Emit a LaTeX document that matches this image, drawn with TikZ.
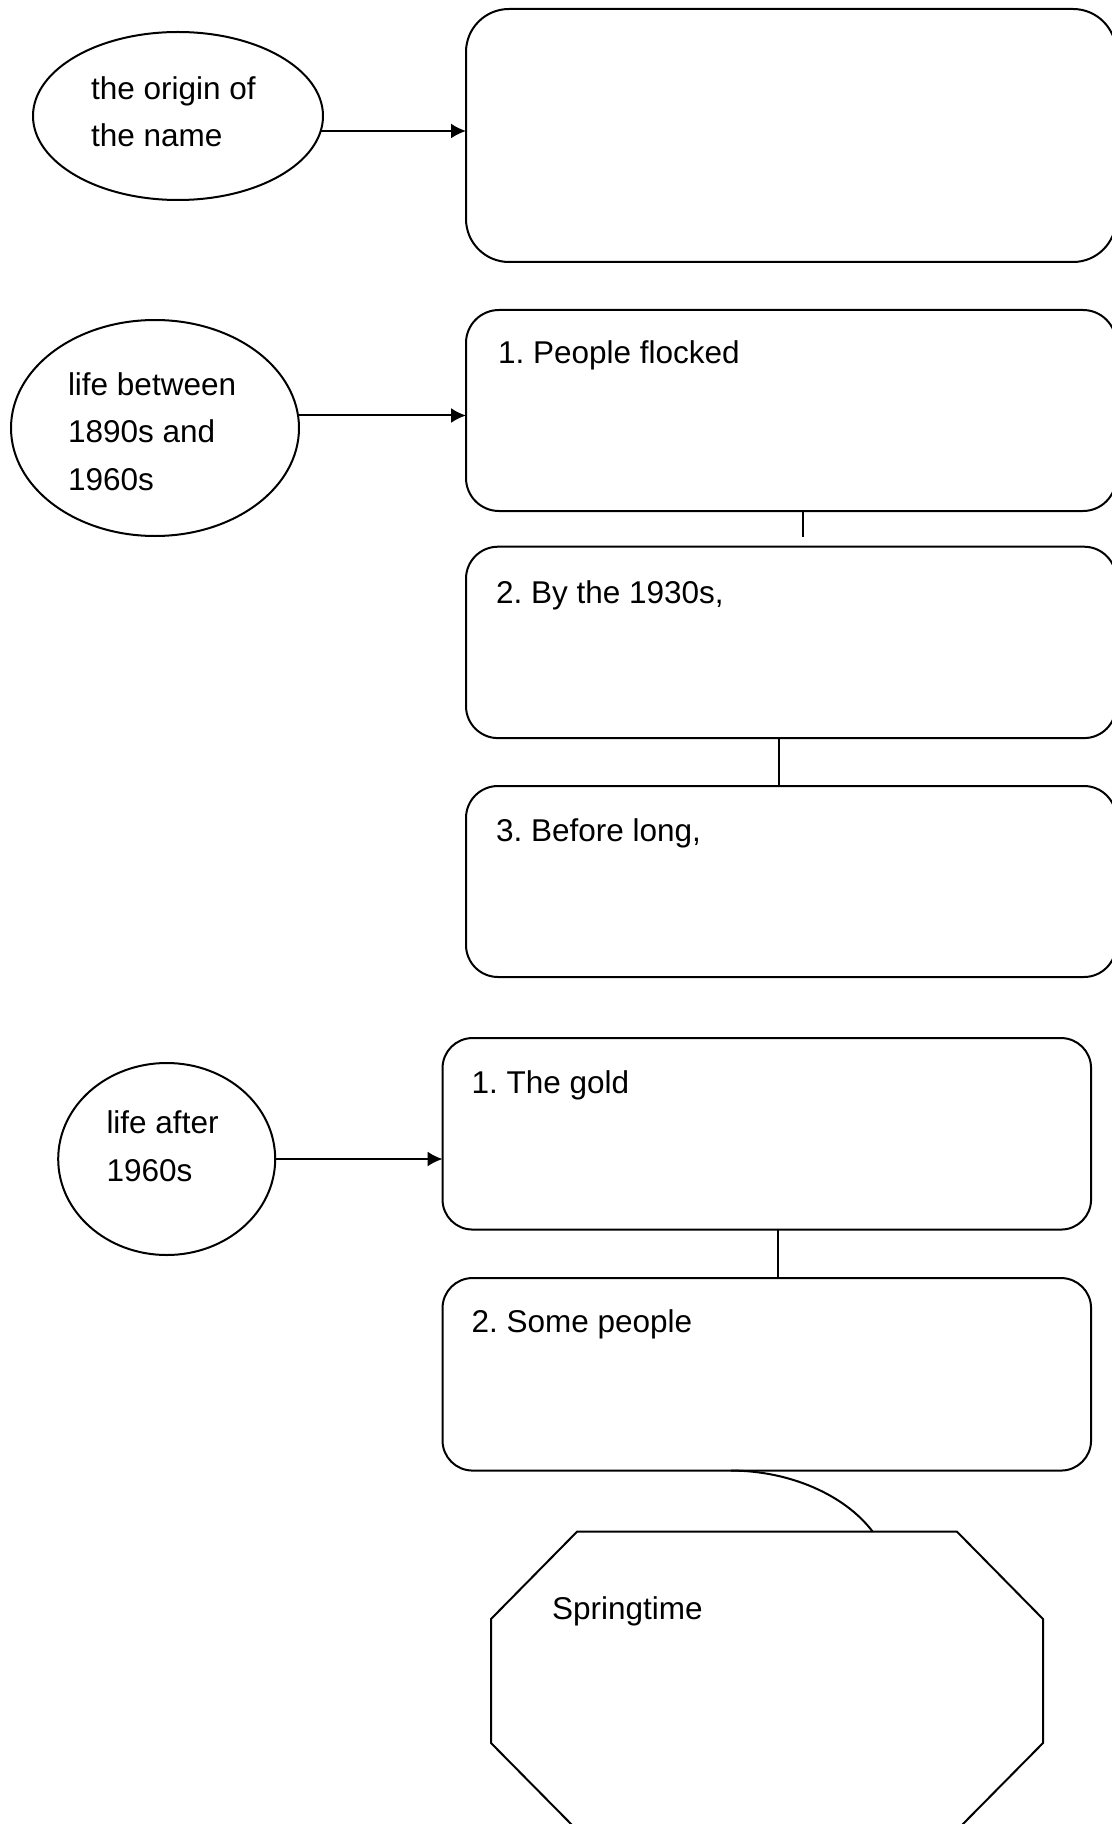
\documentclass[tikz,border=0pt]{standalone}
\usepackage{fontspec}
\setmainfont{Liberation Sans}
\usetikzlibrary{shapes.geometric,arrows.meta}
\frenchspacing
\begin{document}
\begin{tikzpicture}[x=0.5pt,y=-0.5pt,
  line width=1pt,
  txt/.style={anchor=base west, inner sep=0pt, outer sep=0pt, font=\fontsize{15.75}{19}\selectfont},
  oval/.style={draw, ellipse, inner sep=0pt, outer sep=0pt},
  rbox/.style={draw, rectangle, inner sep=0pt, outer sep=0pt},
  arr/.style={-{Latex[length=7.5pt,width=7.5pt]}}]
\path[use as bounding box] (0,0) rectangle (1112,1824);
\clip (0,0) rectangle (1112,1824);

% --- section 1
\node[oval, minimum width=145pt, minimum height=84pt] (e1) at (178,116) {};
\node[rbox, rounded corners=21.5pt, minimum width=325pt, minimum height=126.5pt] (b1) at (791,135.5) {};
\node[txt] (t1a) at (91,100) {the origin of};
\node[txt] (t1b) at (91,147) {the name};
\draw[arr] (e1.-6.2) -- (e1.-6.2 -| b1.west);

% --- section 2
\node[oval, minimum width=144pt, minimum height=108pt] (e2) at (155,428) {};
\node[txt] (t2a) at (68,395) {life between};
\node[txt] (t2b) at (68,442.5) {1890s and};
\node[txt] (t2c) at (68,490) {1960s};
\node[rbox, rounded corners=16.5pt, minimum width=325pt, minimum height=100.5pt] (b2) at (791,410.5) {};
\node[rbox, rounded corners=16pt, minimum width=325pt, minimum height=95.7pt] (b3) at (791,642.4) {};
\node[rbox, rounded corners=16pt, minimum width=325pt, minimum height=95.5pt] (b4) at (791,881.5) {};
\node[txt] (t2d) at (498,364) {1. People flocked};
\node[txt] (t2e) at (496,603) {2. By the 1930s,};
\node[txt] (t2f) at (496,841) {3. Before long,};
\draw[arr] (e2.5.2) -- (e2.5.2 -| b2.west);
\coordinate (c23) at (802.7,536.7);
\draw (c23 |- b2.south) -- (c23);
\coordinate (x34) at (779,0);
\draw (x34 |- b3.south) -- (x34 |- b4.north);

% --- section 3
\node[oval, minimum width=108.5pt, minimum height=96pt] (e3) at (166.7,1159) {};
\node[txt] (t3a) at (106.5,1133) {life after};
\node[txt] (t3b) at (106.5,1181.5) {1960s};
\node[rbox, rounded corners=15pt, minimum width=324.25pt, minimum height=95.75pt] (b5) at (766.8,1133.8) {};
\node[rbox, rounded corners=15pt, minimum width=324.25pt, minimum height=96.25pt] (b6) at (766.8,1374.3) {};
\node[txt] (t3c) at (471.5,1093) {1. The gold};
\node[txt] (t3d) at (471.5,1332.5) {2. Some people};
\draw[arr] (e3.east) -- (e3.east -| b5.west);
\coordinate (x56) at (778,0);
\draw (x56 |- b5.south) -- (x56 |- b6.north);

% --- octagon
\draw[line join=miter] (577,1531.7) coordinate (o1) -- (957,1531.7) -- (1043,1619) -- (1043,1743)
  -- (957,1830) -- (577,1830) -- (491,1743) -- (491,1619) -- cycle;
\node[txt] (t4) at (552,1619) {Springtime};
\coordinate (cs) at (731,0);
\coordinate (ce) at (872.7,1531.7);
\draw (cs |- b6.south) .. controls (790,1470.7) and (845,1495) .. (ce);
\end{tikzpicture}
\end{document}
